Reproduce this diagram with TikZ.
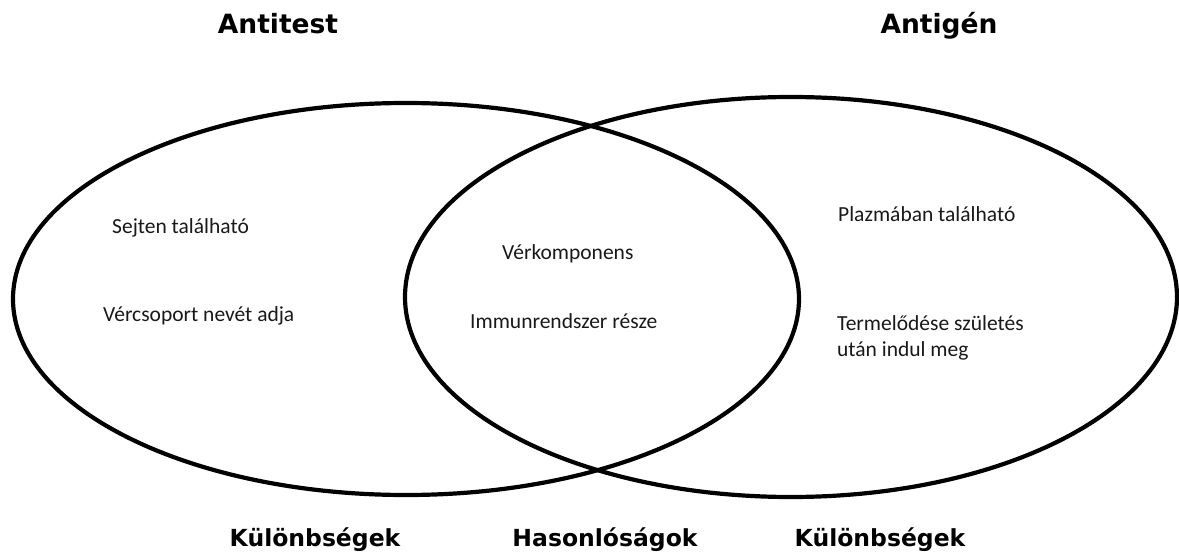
\documentclass[tikz,border=0pt]{standalone}
\usepackage{fontspec}
\setmainfont{Carlito}
\newfontfamily\titlefont{DejaVu Sans}
\tikzset{
  venn/.style={line width=4.2pt, draw=black},
  itemtext/.style={anchor=west, inner sep=0pt, font=\fontsize{21.5}{26}\selectfont, text=black!90},
  titletext/.style={anchor=base, inner sep=0pt, font=\titlefont\bfseries\fontsize{23.5}{28}\selectfont},
  toptitle/.style={titletext, font=\titlefont\bfseries\fontsize{26.5}{32}\selectfont},
}
\begin{document}
\begin{tikzpicture}[x=1pt,y=-1pt]
\useasboundingbox (0,0) rectangle (1179,556);
\fill[white] (0,0) rectangle (1179,556);
% ellipses
\draw[venn] (406,299) ellipse [x radius=393pt, y radius=196pt];
\draw[venn] (791,297) ellipse [x radius=386pt, y radius=200pt];
% titles
\node[toptitle] (antitest) at (278,34) {Antitest};
\node[toptitle] (antigen) at (939,34) {Antigén};
\node[titletext] (kul1) at (315,546) {Különbségek};
\node[titletext] (hason) at (605,546) {Hasonlóságok};
\node[titletext] (kul2) at (880,546) {Különbségek};
% left items
\node[itemtext] (sejten) at (112,228) {Sejten található};
\node[itemtext] (vercs) at (103,316) {Vércsoport nevét adja};
% middle items
\node[itemtext] (verk) at (502,254) {Vérkomponens};
\node[itemtext] (immun) at (470,321) {Immunrendszer része};
% right items
\node[itemtext] (plazma) at (838,214) {Plazmában található};
\node[itemtext, align=left] (termel) at (837,338) {Termelődése születés\\után indul meg};
\end{tikzpicture}
\end{document}
